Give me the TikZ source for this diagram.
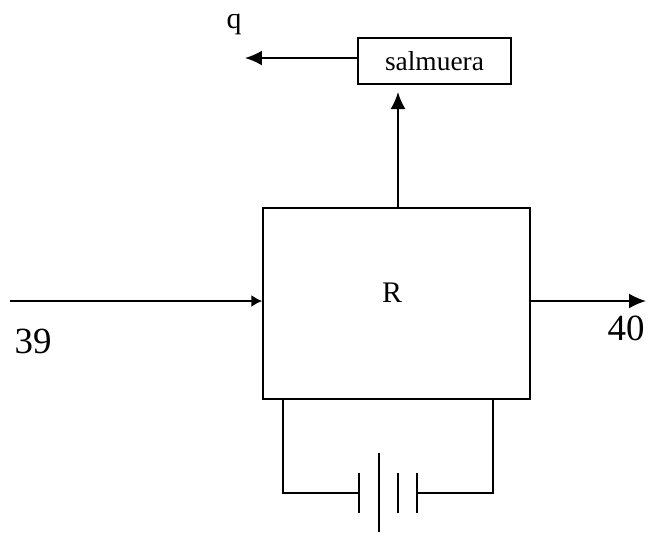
\documentclass[tikz,border=0pt]{standalone}
\usepackage{fontspec}
\setmainfont{Liberation Serif}
\usetikzlibrary{arrows.meta,positioning}

\begin{document}
\begin{tikzpicture}[
    x=0.02cm, y=-0.02cm,
    box/.style={draw, line width=0.8pt, inner sep=0pt, minimum width=5.34cm, minimum height=3.82cm},
    brine/.style={draw, line width=0.8pt, inner sep=0pt, minimum width=3.06cm, minimum height=0.92cm, font=\fontsize{15.6}{18}\selectfont},
    label/.style={inner sep=0pt, font=\fontsize{21}{24}\selectfont},
    small/.style={inner sep=0pt, font=\fontsize{17}{20}\selectfont},
    flow/.style={-{Latex[length=3.4mm, width=3mm]}, line width=1.1pt},
    inflow/.style={-{Latex[length=2.2mm, width=2.4mm]}, line width=1.1pt},
    wire/.style={line width=1.3pt}
]
\useasboundingbox (0,0) rectangle (650,538);
\node[box] (reactor) at (396.5,303.5) {};
\node[small] (rlabel) at (392,293) {R};
\node[brine] (brine) at (434.5,61) {salmuera};
\node[small] (qlabel) at (234,24) {q};
\node[label] (in) at (33,341) {39};
\node[label] (out) at (626,328) {40};
\coordinate (start) at (10,301);
\coordinate (end) at (646,301);
\coordinate (heat) at (245,58);
\coordinate (up) at (398,92);
\coordinate (wirea) at (283,399);
\coordinate (wireb) at (493,399);
% battery
\coordinate (platea) at (359,493);
\coordinate (plated) at (417,493);
\draw[inflow] (start) -- (reactor.west |- start);
\draw[flow] (reactor.east |- end) -- (end);
\draw[flow] (reactor.north -| up) -- (up);
\draw[flow] (brine.west |- heat) -- (heat);
\draw[wire] (wirea) |- (platea);
\draw[wire] (wireb) |- (plated);
\draw[wire] (359,473) -- (359,513);
\draw[wire] (379,453) -- (379,532);
\draw[wire] (398,473) -- (398,513);
\draw[wire] (417,473) -- (417,513);
\end{tikzpicture}
\end{document}
